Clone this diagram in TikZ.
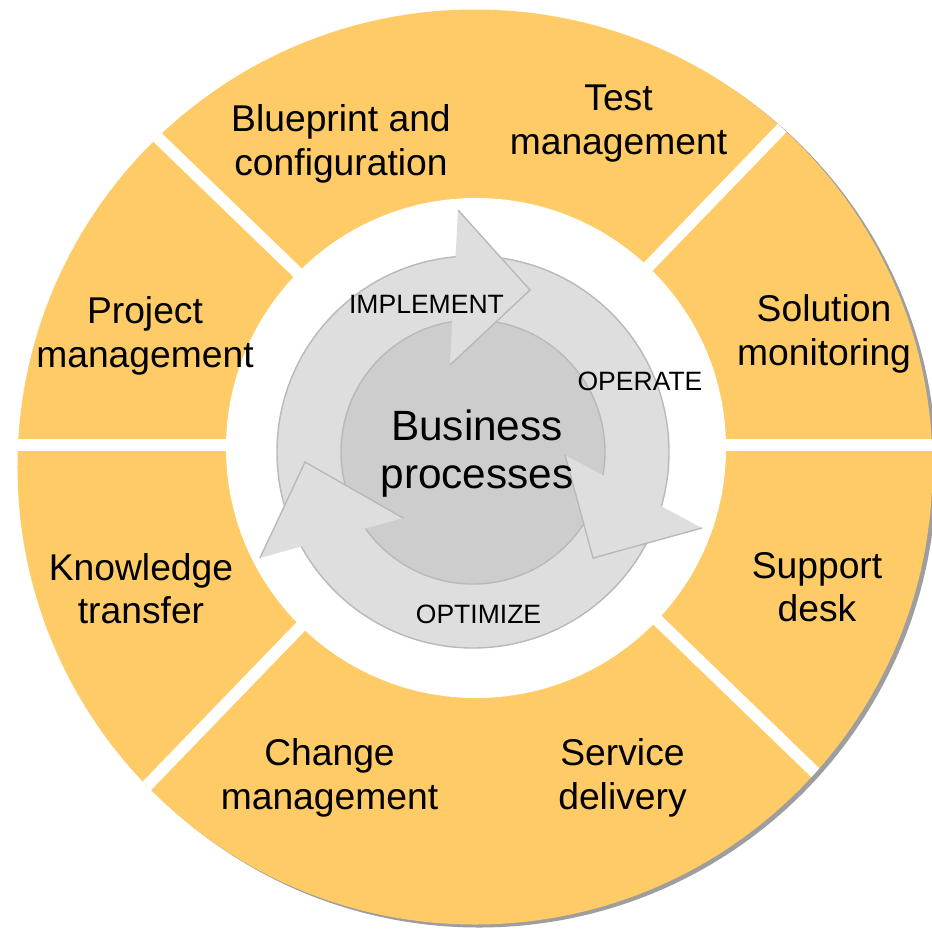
\documentclass[tikz,border=0pt]{standalone}
\usepackage{fontspec}
\setmainfont{Liberation Sans}
\definecolor{ringyellow}{RGB}{254,203,102}
\definecolor{ringshadow}{RGB}{158,158,158}
\definecolor{cyclelight}{RGB}{222,222,222}
\definecolor{cycledark}{RGB}{205,205,205}
\definecolor{cycleedge}{RGB}{185,185,185}
\tikzset{
  seglabel/.style={align=center, inner sep=0pt, font=\fontsize{21.2pt}{24.7pt}\selectfont},
  phaselabel/.style={inner sep=0pt, font=\fontsize{15.1pt}{17pt}\selectfont},
  gapline/.style={white, line width=6.8pt},
}
\begin{document}
\begin{tikzpicture}[x=0.02cm, y=0.02cm]
\useasboundingbox[fill=white] (-476,-483) rectangle (456,448);
\coordinate (O) at (0,0);
\coordinate (R) at (-1,-19);
\coordinate (C) at (-3,-4);
\coordinate (G) at (0,3);

\fill[ringshadow] ([shift={(4,-3)}]R) circle (457.5);
\fill[ringyellow] (R) circle (457.5);
\begin{scope}
\clip (R) circle (457.5);
\foreach \a in {0,46,136,180,226,316}
  \draw[gapline] (G) -- ++(\a:490);
\end{scope}
\fill[white] (O) circle (250);

\fill[cycledark] (C) circle (132);
\fill[cyclelight, even odd rule] (C) circle (196) (C) circle (132);
\draw[cycleedge, line width=0.8pt] (C) circle (196) (C) circle (132);
\foreach \p/\q/\r in {{(-18,238)}/{(54,158)}/{(-26,83)}, {(226,-80)}/{(117,-110)}/{(89,-7)}, {(-216,-110)}/{(-171,-14)}/{(-73,-70)}}{
  \fill[cyclelight] \p -- \q -- \r -- cycle;
  \draw[cycleedge, line width=0.8pt] \p -- \q -- \r;
}

\node[seglabel] (blueprint) at (-135,304) {Blueprint and\\configuration};
\node[seglabel] (test) at (142.5,324.6) {Test\\management};
\node[seglabel] (project) at (-331,112) {Project\\management};
\node[seglabel] (solution) at (348,114) {Solution\\monitoring};
\node[seglabel] (knowledge) at (-335,-140.5) {Knowledge\\transfer};
\node[seglabel] (support) at (341,-139) {Support\\desk};
\node[seglabel] (change) at (-146.5,-330) {Change\\management};
\node[seglabel] (service) at (146.5,-330) {Service\\delivery};
\node[align=center, inner sep=0pt, font=\fontsize{24.1pt}{27.5pt}\selectfont] (business) at (1,-5.4) {Business\\processes};
\node[phaselabel] (implement) at (-49.5,143.8) {IMPLEMENT};
\node[phaselabel] (operate) at (164,66.3) {OPERATE};
\node[phaselabel] (optimize) at (2.5,-166) {OPTIMIZE};
\end{tikzpicture}
\end{document}
